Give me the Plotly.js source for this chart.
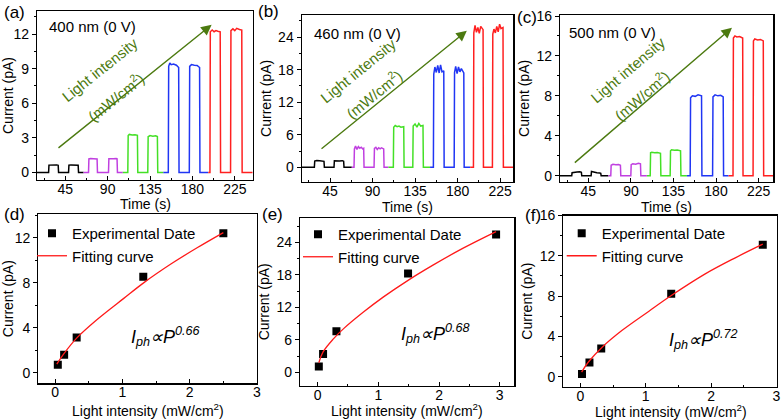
<!DOCTYPE html>
<html>
<head>
<meta charset="utf-8">
<script src="https://cdn.plot.ly/plotly-3.0.1.min.js"></script>
<style>html,body{margin:0;padding:0;background:#fff;}#chart{width:782px;height:420px;}</style>
</head>
<body>
<div id="chart"></div>
<script>
// ---------- Panel (a): 400 nm ----------
const a_black_t = [15, 27.3, 27.7, 30, 33, 36, 37.5, 37.9, 48.5, 48.9, 51, 54, 57, 58.7, 59.1, 64.4];
const a_black_i = [0, 0, 0.64, 0.66, 0.65, 0.66, 0.63, 0, 0, 0.64, 0.66, 0.64, 0.66, 0.63, 0, 0];
const a_mag_t = [64.4, 69.7, 70.1, 72, 75, 78, 78.8, 79.2, 90.9, 91.3, 93, 96, 99, 100, 100.4, 106.1];
const a_mag_i = [0, 0, 1.18, 1.22, 1.2, 1.21, 1.17, 0, 0, 1.2, 1.22, 1.19, 1.21, 1.18, 0, 0];
const a_grn_t = [106.1, 111.4, 111.8, 113, 116, 119, 121.6, 122, 132.6, 133, 135, 138, 141, 142.8, 143.2, 149.1];
const a_grn_i = [0, 0, 3.2, 3.3, 3.25, 3.28, 3.22, 0, 0, 3.1, 3.2, 3.15, 3.18, 3.12, 0, 0];
const a_blu_t = [149.1, 154.4, 154.8, 156, 157.5, 160, 163, 165.4, 165.8, 176.7, 177.1, 179, 182, 185, 187.6, 188, 196.8];
const a_blu_i = [0, 0, 9.2, 9.5, 9.35, 9.4, 9.3, 9.1, 0, 0, 9.2, 9.35, 9.3, 9.28, 9.1, 0, 0];
const a_red_t = [196.8, 198.6, 199, 201, 203, 205, 207, 209.5, 209.9, 220.5, 220.9, 223, 225, 227, 230, 232.4, 232.8, 244];
const a_red_i = [0, 0, 12.2, 12.35, 12.2, 12.3, 12.25, 12.2, 0, 0, 12.3, 12.45, 12.3, 12.5, 12.4, 12.35, 0, 0];

// ---------- Panel (b): 460 nm ----------
const b_black_t = [15, 28.4, 28.8, 31, 34, 37, 38.6, 39, 49.2, 49.6, 52, 55, 58, 59.4, 59.8, 68];
const b_black_i = [0, 0, 1.15, 1.25, 1.2, 1.22, 1.1, 0, 0, 1.2, 1.25, 1.18, 1.22, 1.1, 0, 0];
const b_mag_t = [68, 70.4, 70.8, 72, 73.5, 75, 76.5, 78, 79.5, 80.6, 81, 91.6, 92, 93.5, 95, 96.5, 98, 99.5, 101.8, 102.2, 106.8];
const b_mag_i = [0, 0, 3.4, 3.9, 3.3, 3.8, 3.5, 3.7, 3.4, 3.5, 0, 0, 3.5, 3.7, 3.3, 3.6, 3.4, 3.6, 3.4, 0, 0];
const b_grn_t = [106.8, 112, 112.4, 114, 116, 118, 120, 123, 123.4, 132.6, 133, 135, 137, 139, 141, 143.4, 143.8, 150.9];
const b_grn_i = [0, 0, 7.4, 7.7, 7.5, 7.6, 7.4, 7.5, 0, 0, 7.6, 8.0, 7.4, 8.1, 7.6, 7.7, 0, 0];
const b_blu_t = [150.9, 154.4, 154.8, 156, 157.5, 159, 160.5, 162, 163.5, 165.4, 165.8, 176.4, 176.8, 178, 179.5, 181, 182.5, 184, 186.6, 187, 193.3];
const b_blu_i = [0, 0, 17.2, 18.5, 17.5, 18.8, 17.4, 18.9, 17.6, 17.8, 0, 0, 17.5, 18.6, 17.3, 18.5, 17.6, 18.2, 17.4, 0, 0];
const b_red_t = [193.3, 196.8, 197.2, 198.5, 200, 201.5, 203, 204.5, 207, 207.4, 216.9, 217.3, 218.5, 220, 221.5, 223, 224.5, 226, 228.1, 228.5, 239];
const b_red_i = [0, 0, 24.8, 26.2, 24.9, 25.8, 24.7, 26.0, 25.4, 0, 0, 24.6, 25.5, 24.8, 26.0, 25.0, 26.4, 25.6, 25.8, 0, 0];

// ---------- Panel (c): 500 nm ----------
const c_black_t = [15, 27.4, 27.8, 30, 33, 36, 37.6, 38, 47.9, 48.3, 51, 54, 57, 58.1, 58.5, 66.2];
const c_black_i = [0, 0, 0.3, 0.35, 0.38, 0.4, 0.35, 0, 0, 0.42, 0.35, 0.3, 0.28, 0.25, 0, 0];
const c_mag_t = [66.2, 68.7, 69.1, 71, 74, 77, 78.9, 79.3, 89.9, 90.3, 92, 95, 98, 100.1, 100.5, 106.9];
const c_mag_i = [0, 0, 1.05, 1.15, 1.1, 1.12, 1.05, 0, 0, 1.1, 1.2, 1.15, 1.25, 1.2, 0, 0];
const c_grn_t = [106.9, 110.4, 110.8, 112, 115, 118, 121.3, 121.7, 131.5, 131.9, 133, 136, 139, 142.5, 142.9, 149.2];
const c_grn_i = [0, 0, 2.3, 2.35, 2.3, 2.32, 2.25, 0, 0, 2.5, 2.6, 2.55, 2.58, 2.5, 0, 0];
const c_blu_t = [149.2, 152.7, 153.1, 155, 158, 161, 164.7, 165.1, 176.4, 176.8, 179, 182, 185, 187.6, 188, 193.3];
const c_blu_i = [0, 0, 7.8, 8.0, 7.95, 8.1, 8.0, 0, 0, 7.9, 8.1, 8.0, 8.05, 7.9, 0, 0];
const c_red_t = [193.3, 198, 198.4, 200, 202, 205, 208.2, 208.6, 219.2, 219.6, 221, 224, 227, 230, 230.4, 240.6];
const c_red_i = [0, 0, 13.8, 14.0, 13.9, 13.95, 13.8, 0, 0, 13.5, 13.7, 13.6, 13.65, 13.5, 0, 0];

// ---------- Panels (d)(e)(f): photocurrent vs light intensity ----------
const d_exp_p = [0.04, 0.134, 0.32, 1.31, 2.5];
const d_exp_i = [0.69, 1.58, 3.13, 8.52, 12.38];
const d_fit_p = [0.025, 0.12, 0.32, 0.62, 1.02, 1.32, 1.72, 2.11, 2.5];
const d_fit_i = [0.75, 1.6, 3.07, 4.7, 6.6, 8.0, 9.65, 11.1, 12.45];

const e_exp_p = [0.02, 0.09, 0.31, 1.49, 2.94];
const e_exp_i = [1.1, 3.4, 7.6, 18.25, 25.45];
const e_fit_p = [0.02, 0.09, 0.26, 0.42, 0.75, 1.08, 1.49, 1.9, 2.39, 2.94];
const e_fit_i = [1.8, 3.8, 6.2, 8.0, 11.1, 13.9, 17.0, 19.8, 22.9, 26.0];

const f_exp_p = [0.026, 0.14, 0.32, 1.39, 2.79];
const f_exp_i = [0.27, 1.4, 2.8, 8.24, 13.1];
const f_fit_p = [0.02, 0.13, 0.33, 0.64, 1.05, 1.38, 1.91, 2.37, 2.79];
const f_fit_i = [0.45, 1.5, 2.9, 4.6, 6.5, 8.0, 10.2, 11.8, 13.15];

// text labels
const panelLabels = ['(a)', '(b)', '(c)', '(d)', '(e)', '(f)'];
const wavelengthLabels = ['400 nm (0 V)', '460 nm (0 V)', '500 nm (0 V)'];
const fitLabels = ['<i>I<sub>ph</sub>\u221DP<sup>0.66</sup></i>', '<i>I<sub>ph</sub>\u221DP<sup>0.68</sup></i>', '<i>I<sub>ph</sub>\u221DP<sup>0.72</sup></i>'];
const xTitleTop = 'Time (s)';
const xTitleBottom = 'Light intensity (mW/cm<sup>2</sup>)';

// ---------- build ----------
const FONT = 'Liberation Sans, Arial, sans-serif';
const COLORS = {black: '#000000', mag: '#c040e0', grn: '#44e026', blu: '#2036f4', red: '#ff2020'};
const OLIVE = '#4c7a10';

const traces = [];
function addSeries(t, i, color, xa, ya) {
  traces.push({x: t, y: i, type: 'scatter', mode: 'lines', xaxis: xa, yaxis: ya,
    line: {color: color, width: 1.5}, showlegend: false, hoverinfo: 'skip'});
}
const topSets = [
  ['x', 'y', [[a_black_t, a_black_i, 'black'], [a_mag_t, a_mag_i, 'mag'], [a_grn_t, a_grn_i, 'grn'], [a_blu_t, a_blu_i, 'blu'], [a_red_t, a_red_i, 'red']]],
  ['x2', 'y2', [[b_black_t, b_black_i, 'black'], [b_mag_t, b_mag_i, 'mag'], [b_grn_t, b_grn_i, 'grn'], [b_blu_t, b_blu_i, 'blu'], [b_red_t, b_red_i, 'red']]],
  ['x3', 'y3', [[c_black_t, c_black_i, 'black'], [c_mag_t, c_mag_i, 'mag'], [c_grn_t, c_grn_i, 'grn'], [c_blu_t, c_blu_i, 'blu'], [c_red_t, c_red_i, 'red']]]
];
topSets.forEach(([xa, ya, sets]) => sets.forEach(s => addSeries(s[0], s[1], COLORS[s[2]], xa, ya)));

const botSets = [
  ['x4', 'y4', 'legend', d_exp_p, d_exp_i, d_fit_p, d_fit_i],
  ['x5', 'y5', 'legend2', e_exp_p, e_exp_i, e_fit_p, e_fit_i],
  ['x6', 'y6', 'legend3', f_exp_p, f_exp_i, f_fit_p, f_fit_i]
];
botSets.forEach(([xa, ya, lg, ep, ei, fp, fi]) => {
  traces.push({x: ep, y: ei, type: 'scatter', mode: 'markers', xaxis: xa, yaxis: ya, legend: lg,
    name: 'Experimental Date', marker: {symbol: 'square', size: 8, color: '#000'}, hoverinfo: 'skip'});
  traces.push({x: fp, y: fi, type: 'scatter', mode: 'lines', xaxis: xa, yaxis: ya, legend: lg,
    name: 'Fitting curve', line: {color: '#ff1a1a', width: 1.3, shape: 'spline'}, hoverinfo: 'skip'});
});

function axisBase(extra) {
  return Object.assign({
    showline: true, mirror: true, linecolor: '#000', linewidth: 1.2,
    ticks: 'outside', ticklen: 4, tickwidth: 1, tickcolor: '#000',
    showgrid: false, zeroline: false, automargin: false,
    tickfont: {family: FONT, size: 14, color: '#000'}
  }, extra);
}
const W = 782, H = 420;
const dx = (l, r) => [l / W, r / W];
const dy = (b, t) => [1 - b / H, 1 - t / H];

const curTitle = {text: 'Current (pA)', font: {family: FONT, size: 14, color: '#000'}, standoff: 3};
const mnr = (d, side) => ({ticks: side || 'outside', ticklen: 2, dtick: d, tickcolor: '#000', showgrid: false});
const xin = {ticks: 'inside', ticklen: 4, ticklabelstandoff: -4};

const legendBase = {xanchor: 'left', yanchor: 'top', bgcolor: 'rgba(0,0,0,0)', borderwidth: 0, font: {family: FONT, size: 15, color: '#000'}, tracegroupgap: 0};

const layout = {
  width: W, height: H, margin: {l: 0, r: 0, t: 0, b: 0},
  paper_bgcolor: '#fff', plot_bgcolor: '#fff',
  font: {family: FONT, color: '#000', size: 14},
  xaxis: axisBase(Object.assign({domain: dx(37, 252.7), anchor: 'y', range: [15, 244], tick0: 0, dtick: 45, minor: mnr(22.5, 'inside')}, xin)),
  yaxis: axisBase({domain: dy(180, 11), anchor: 'x', range: [-0.65, 14], dtick: 3, minor: mnr(1.5), title: curTitle}),
  xaxis2: axisBase(Object.assign({domain: dx(301.7, 513.3), anchor: 'y2', range: [15, 239], tick0: 0, dtick: 45, minor: mnr(22.5, 'inside')}, xin)),
  yaxis2: axisBase({domain: dy(181.7, 15), anchor: 'x2', range: [-2.66, 28.1], dtick: 6, minor: mnr(3), title: curTitle}),
  xaxis3: axisBase(Object.assign({domain: dx(560, 773.3), anchor: 'y3', range: [15, 240.6], tick0: 0, dtick: 45, minor: mnr(22.5, 'inside')}, xin)),
  yaxis3: axisBase({domain: dy(181.7, 15), anchor: 'x3', range: [-0.6, 16.1], dtick: 4, minor: mnr(2), title: curTitle}),
  xaxis4: axisBase(Object.assign({domain: dx(38.3, 257), anchor: 'y4', range: [-0.25, 3], dtick: 1, minor: mnr(0.5, 'inside')}, xin)),
  yaxis4: axisBase({domain: dy(383.3, 214), anchor: 'x4', range: [-0.95, 14.1], dtick: 4, minor: mnr(2), title: curTitle}),
  xaxis5: axisBase(Object.assign({domain: dx(300, 514.3), anchor: 'y5', range: [-0.29, 3.24], dtick: 1, minor: mnr(0.5, 'inside')}, xin)),
  yaxis5: axisBase({domain: dy(385.5, 218), anchor: 'x5', range: [-2.4, 28.5], dtick: 6, minor: mnr(3), title: curTitle}),
  xaxis6: axisBase(Object.assign({domain: dx(563.3, 776.5), anchor: 'y6', range: [-0.26, 3], dtick: 1, minor: mnr(0.5, 'inside')}, xin)),
  yaxis6: axisBase({domain: dy(386.7, 215.5), anchor: 'x6', range: [-1, 16], dtick: 4, minor: mnr(2), title: curTitle}),
  legend: Object.assign({x: 32 / W, y: 1 - 217 / H}, legendBase),
  legend2: Object.assign({x: 298 / W, y: 1 - 218 / H}, legendBase),
  legend3: Object.assign({x: 561.7 / W, y: 1 - 217 / H}, legendBase),
  annotations: []
};

// panel letters (paper px positions)
const panelPos = [[14, 12], [268, 11], [527, 18], [14, 215], [272, 215], [533, 216]];
panelLabels.forEach((t, k) => layout.annotations.push({
  text: t, xref: 'paper', yref: 'paper', x: panelPos[k][0] / W, y: 1 - panelPos[k][1] / H,
  xanchor: 'center', yanchor: 'middle', showarrow: false, font: {family: FONT, size: 17, color: '#000'}
}));

// x-axis titles (placed as annotations, centred under each subplot)
const xTitlePos = [[145, 204], [407.5, 206.5], [666.7, 206.5], [148, 410], [407, 409.5], [670.5, 410.5]];
xTitlePos.forEach((p, k) => layout.annotations.push({
  text: k < 3 ? xTitleTop : xTitleBottom, xref: 'paper', yref: 'paper', x: p[0] / W, y: 1 - p[1] / H,
  xanchor: 'center', yanchor: 'middle', showarrow: false, font: {family: FONT, size: 14, color: '#000'}
}));

// wavelength labels, arrows, "Light intensity" texts
const topAx = [['x', 'y'], ['x2', 'y2'], ['x3', 'y3']];
const wlPos = [[25.6, 12.66], [25.6, 24.7], [22.1, 14.3]];
const arrowTail = [[36.2, 2.03], [34.4, 3.2], [29.1, 1.18]];
const arrowHead = [[200.4, 12.8], [189.8, 25.2], [196.9, 14.83]];
const liPos = [[82.1, 8.9], [75, 17.9], [87.4, 10.6]];
const unitPos = [[98, 6.6], [90.9, 13.66], [101.6, 8.12]];
const angles = [-38.7, -39.1, -40.6];
topAx.forEach(([xa, ya], k) => {
  layout.annotations.push({text: wavelengthLabels[k], xref: xa, yref: ya, x: wlPos[k][0], y: wlPos[k][1],
    xanchor: 'left', yanchor: 'middle', showarrow: false, font: {family: FONT, size: 15, color: '#000'}});
  layout.annotations.push({text: '', xref: xa, yref: ya, x: arrowHead[k][0], y: arrowHead[k][1],
    axref: xa, ayref: ya, ax: arrowTail[k][0], ay: arrowTail[k][1], showarrow: true,
    arrowhead: 2, arrowsize: 1.5, arrowwidth: 1.4, arrowcolor: OLIVE});
  layout.annotations.push({text: 'Light intensity', xref: xa, yref: ya, x: liPos[k][0], y: liPos[k][1],
    textangle: angles[k], showarrow: false, font: {family: FONT, size: 15, color: OLIVE}});
  layout.annotations.push({text: '(mW/cm<sup>2</sup>)', xref: xa, yref: ya, x: unitPos[k][0], y: unitPos[k][1],
    textangle: angles[k], showarrow: false, font: {family: FONT, size: 15, color: OLIVE}});
});

// power-law labels
const botAx = [['x4', 'y4'], ['x5', 'y5'], ['x6', 'y6']];
const fitPos = [[1.64, 3.2], [1.94, 7.2], [1.88, 3.7]];
botAx.forEach(([xa, ya], k) => layout.annotations.push({
  text: fitLabels[k], xref: xa, yref: ya, x: fitPos[k][0], y: fitPos[k][1],
  showarrow: false, font: {family: FONT, size: 18, color: '#000'}
}));

Plotly.newPlot('chart', traces, layout, {staticPlot: true, displayModeBar: false});
</script>
</body>
</html>
